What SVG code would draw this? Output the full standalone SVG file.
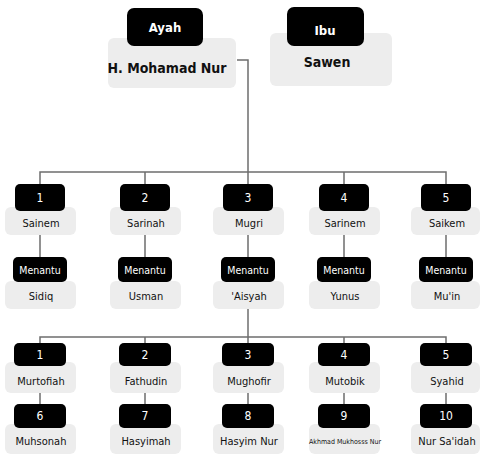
<svg xmlns="http://www.w3.org/2000/svg" width="480" height="454" viewBox="0 0 480 454">
<style>
.bk{fill:#000;}
.gr{fill:#ededed;}
.ln{stroke:#6e6e6e;stroke-width:1.5;fill:none;}
text{font-family:"DejaVu Sans Condensed","Liberation Sans Narrow","Liberation Sans",sans-serif;text-anchor:middle;}
.w{fill:#fff;font-size:12px;}
.m{fill:#fff;font-size:10.5px;}
.n{fill:#111;font-size:11px;}
.tb{font-weight:bold;font-size:14px;fill:#111;}
.tw{font-weight:bold;font-size:13px;fill:#fff;}
.s{font-size:7px;fill:#111;}
</style>
<rect width="480" height="454" fill="#fff"/>
<g id="connectors" class="ln">
<path d="M237 60H248V172"/>
<path d="M40 184V172H446V184"/>
<path d="M145 172V184M248 172V184M344 172V184"/>
<path d="M40 235V257M145 235V257M248 235V257M344 235V257M446 235V257"/>
<path d="M248 309V337"/>
<path d="M40 343V337H446V343"/>
<path d="M145 337V343M248 337V343M344 337V343"/>
<path d="M40 393V404M145 393V404M248 393V404M344 393V404M446 393V404"/>
</g>
<g id="ayah">
<rect class="gr" x="108" y="38" width="128" height="50" rx="6"/>
<rect class="bk" x="127" y="8" width="76" height="38" rx="7"/>
<text class="tw" x="165" y="32">Ayah</text>
<text class="tb" x="167" y="73">H. Mohamad Nur</text>
</g>
<g id="ibu">
<rect class="gr" x="270" y="33" width="122" height="53" rx="6"/>
<rect class="bk" x="287" y="7" width="77" height="39" rx="7"/>
<text class="tw" x="325" y="35">Ibu</text>
<text class="tb" x="327" y="67">Sawen</text>
</g>
<g id="anak1"><rect class="gr" x="5" y="207" width="71" height="28" rx="6"/><rect class="bk" x="15" y="184" width="50" height="27" rx="5"/><text class="w" x="40" y="202">1</text><text class="n" x="41" y="227">Sainem</text></g>
<g id="anak2"><rect class="gr" x="110" y="207" width="71" height="28" rx="6"/><rect class="bk" x="120" y="184" width="50" height="27" rx="5"/><text class="w" x="145" y="202">2</text><text class="n" x="146" y="227">Sarinah</text></g>
<g id="anak3"><rect class="gr" x="213" y="207" width="71" height="28" rx="6"/><rect class="bk" x="223" y="184" width="50" height="27" rx="5"/><text class="w" x="248" y="202">3</text><text class="n" x="249" y="227">Mugri</text></g>
<g id="anak4"><rect class="gr" x="309" y="207" width="71" height="28" rx="6"/><rect class="bk" x="319" y="184" width="50" height="27" rx="5"/><text class="w" x="344" y="202">4</text><text class="n" x="345" y="227">Sarinem</text></g>
<g id="anak5"><rect class="gr" x="411" y="207" width="69" height="28" rx="6"/><rect class="bk" x="421" y="184" width="50" height="27" rx="5"/><text class="w" x="446" y="202">5</text><text class="n" x="447" y="227">Saikem</text></g>
<g id="menantu1"><rect class="gr" x="5" y="281" width="71" height="28" rx="6"/><rect class="bk" x="13" y="257" width="54" height="25" rx="5"/><text class="m" x="40" y="274">Menantu</text><text class="n" x="41" y="300">Sidiq</text></g>
<g id="menantu2"><rect class="gr" x="110" y="281" width="71" height="28" rx="6"/><rect class="bk" x="118" y="257" width="54" height="25" rx="5"/><text class="m" x="145" y="274">Menantu</text><text class="n" x="146" y="300">Usman</text></g>
<g id="menantu3"><rect class="gr" x="213" y="281" width="71" height="28" rx="6"/><rect class="bk" x="221" y="257" width="54" height="25" rx="5"/><text class="m" x="248" y="274">Menantu</text><text class="n" x="249" y="300">'Aisyah</text></g>
<g id="menantu4"><rect class="gr" x="309" y="281" width="71" height="28" rx="6"/><rect class="bk" x="317" y="257" width="54" height="25" rx="5"/><text class="m" x="344" y="274">Menantu</text><text class="n" x="345" y="300">Yunus</text></g>
<g id="menantu5"><rect class="gr" x="411" y="281" width="69" height="28" rx="6"/><rect class="bk" x="419" y="257" width="54" height="25" rx="5"/><text class="m" x="446" y="274">Menantu</text><text class="n" x="447" y="300">Mu'in</text></g>
<g id="cucu1"><rect class="gr" x="5" y="362" width="71" height="31" rx="6"/><rect class="bk" x="14" y="343" width="52" height="23" rx="5"/><text class="w" x="40" y="359">1</text><text class="n" x="41" y="385">Murtofiah</text></g>
<g id="cucu2"><rect class="gr" x="110" y="362" width="71" height="31" rx="6"/><rect class="bk" x="119" y="343" width="52" height="23" rx="5"/><text class="w" x="145" y="359">2</text><text class="n" x="146" y="385">Fathudin</text></g>
<g id="cucu3"><rect class="gr" x="213" y="362" width="71" height="31" rx="6"/><rect class="bk" x="222" y="343" width="52" height="23" rx="5"/><text class="w" x="248" y="359">3</text><text class="n" x="249" y="385">Mughofir</text></g>
<g id="cucu4"><rect class="gr" x="309" y="362" width="71" height="31" rx="6"/><rect class="bk" x="318" y="343" width="52" height="23" rx="5"/><text class="w" x="344" y="359">4</text><text class="n" x="345" y="385">Mutobik</text></g>
<g id="cucu5"><rect class="gr" x="411" y="362" width="69" height="31" rx="6"/><rect class="bk" x="420" y="343" width="52" height="23" rx="5"/><text class="w" x="446" y="359">5</text><text class="n" x="447" y="385">Syahid</text></g>
<g id="cucu6"><rect class="gr" x="5" y="424" width="71" height="30" rx="6"/><rect class="bk" x="14" y="404" width="52" height="24" rx="5"/><text class="w" x="40" y="420">6</text><text class="n" x="41" y="445">Muhsonah</text></g>
<g id="cucu7"><rect class="gr" x="110" y="424" width="71" height="30" rx="6"/><rect class="bk" x="119" y="404" width="52" height="24" rx="5"/><text class="w" x="145" y="420">7</text><text class="n" x="146" y="445">Hasyimah</text></g>
<g id="cucu8"><rect class="gr" x="213" y="424" width="71" height="30" rx="6"/><rect class="bk" x="222" y="404" width="52" height="24" rx="5"/><text class="w" x="248" y="420">8</text><text class="n" x="249" y="445">Hasyim Nur</text></g>
<g id="cucu9"><rect class="gr" x="309" y="424" width="71" height="30" rx="6"/><rect class="bk" x="318" y="404" width="52" height="24" rx="5"/><text class="w" x="344" y="420">9</text><text class="s" x="345" y="444">Akhmad Mukhosss Nur</text></g>
<g id="cucu10"><rect class="gr" x="411" y="424" width="69" height="30" rx="6"/><rect class="bk" x="420" y="404" width="52" height="24" rx="5"/><text class="w" x="446" y="420">10</text><text class="n" x="447" y="445">Nur Sa'idah</text></g>
</svg>
